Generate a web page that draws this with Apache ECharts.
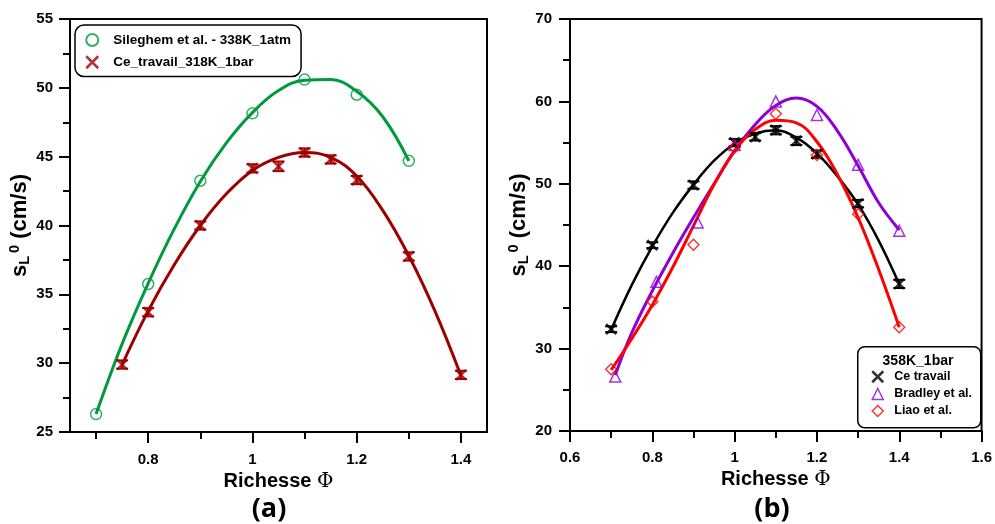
<!DOCTYPE html>
<html>
<head>
<meta charset="utf-8">
<script src="https://cdn.jsdelivr.net/npm/echarts@6/dist/echarts.min.js"></script>
<style>html,body{margin:0;padding:0;background:#fff}#c{width:995px;height:524px}</style>
</head>
<body>
<div id="c"></div>
<script>
// ---------- Panel (a) data ----------
const aGreenX = [0.7, 0.8, 0.9, 1.0, 1.1, 1.2, 1.3];
const aGreenY = [26.3, 35.75, 43.25, 48.15, 50.6, 49.5, 44.7];
const aRedX = [0.75, 0.8, 0.9, 1.0, 1.05, 1.1, 1.15, 1.2, 1.3, 1.4];
const aRedY = [29.9, 33.7, 40.0, 44.15, 44.3, 45.3, 44.8, 43.3, 37.75, 29.15];
const aRedErr = [0.3, 0.3, 0.3, 0.3, 0.35, 0.3, 0.3, 0.3, 0.3, 0.3];
const aFitGreenX = [0.7, 0.75, 0.8, 0.85, 0.9, 0.95, 1.0, 1.05, 1.1, 1.15, 1.2, 1.25, 1.3];
const aFitGreenY = [26.3, 31.4, 35.8, 39.75, 43.2, 46.0, 48.2, 49.8, 50.55, 50.6, 49.75, 47.9, 44.7];
const aFitRedX = [0.75, 0.8, 0.85, 0.9, 0.95, 1.0, 1.05, 1.1, 1.15, 1.2, 1.25, 1.3, 1.35, 1.4];
const aFitRedY = [29.9, 33.8, 37.15, 40.0, 42.3, 44.0, 44.95, 45.3, 44.95, 43.6, 41.1, 37.8, 33.8, 29.1];
const aXLabels = [0.8, 1.0, 1.2, 1.4];
const aXMinor = [0.7, 0.9, 1.1, 1.3];

// ---------- Panel (b) data ----------
const bBlackX = [0.7, 0.8, 0.9, 1.0, 1.05, 1.1, 1.15, 1.2, 1.3, 1.4];
const bBlackY = [32.35, 42.55, 49.85, 55.0, 55.7, 56.5, 55.2, 53.6, 47.6, 37.85];
const bBlackErr = [0.35, 0.35, 0.45, 0.45, 0.45, 0.5, 0.5, 0.45, 0.45, 0.5];
const bPurpleX = [0.71, 0.81, 0.91, 1.0, 1.1, 1.2, 1.3, 1.4];
const bPurpleY = [26.6, 38.1, 45.3, 54.7, 60.0, 58.35, 52.3, 44.3];
const bRedX = [0.7, 0.8, 0.9, 1.0, 1.1, 1.2, 1.3, 1.4];
const bRedY = [27.5, 35.7, 42.6, 54.4, 58.5, 53.5, 46.3, 32.6];
const bFitBlackX = [0.7, 0.75, 0.8, 0.85, 0.9, 0.95, 1.0, 1.05, 1.1, 1.15, 1.2, 1.25, 1.3, 1.35, 1.4];
const bFitBlackY = [32.3, 37.7, 42.4, 46.5, 49.9, 52.8, 54.9, 56.1, 56.5, 55.6, 53.7, 50.9, 47.5, 43.1, 37.8];
const bFitPurpleX = [0.71, 0.75, 0.8, 0.85, 0.9, 0.95, 1.0, 1.05, 1.1, 1.15, 1.2, 1.25, 1.3, 1.35, 1.4];
const bFitPurpleY = [26.8, 31.9, 37.0, 41.6, 45.9, 50.0, 54.0, 57.2, 59.5, 60.4, 59.4, 56.4, 52.2, 47.7, 44.4];
const bFitRedX = [0.7, 0.75, 0.8, 0.85, 0.9, 0.95, 1.0, 1.05, 1.1, 1.15, 1.2, 1.25, 1.3, 1.35, 1.4];
const bFitRedY = [27.4, 31.2, 35.3, 39.9, 44.9, 49.9, 54.0, 56.6, 57.7, 57.4, 55.1, 51.1, 45.9, 39.6, 32.6];

// ---------- Text ----------
const nameGreenA = 'Sileghem et al. - 338K_1atm';
const nameRedA = 'Ce_travail_318K_1bar';
const nameBlackB = 'Ce travail';
const namePurpleB = 'Bradley et al.';
const nameRedB = 'Liao et al.';
const legendTitleB = '358K_1bar';

const C_GREEN = '#009a3e', C_DRED = '#9e0000', C_PURPLE = '#8c00d4', C_RED = '#ff0000', C_BLACK = '#000000';
const FONT = 'Liberation Sans, Arial, sans-serif';
const X_PATH = 'path://M0,0L10,10M10,0L0,10';

const zip = (xs, ys) => xs.map((x, i) => [x, ys[i]]);
const errData = (xs, ys, es) => xs.map((x, i) => [x, ys[i] - es[i], ys[i] + es[i]]);

function errRender(color) {
  return function (params, api) {
    const x = api.value(0), lo = api.value(1), hi = api.value(2);
    const p1 = api.coord([x, lo]), p2 = api.coord([x, hi]);
    const hw = 6;
    const st = { stroke: color, lineWidth: 2 };
    return { type: 'group', children: [
      { type: 'line', shape: { x1: p1[0], y1: p1[1], x2: p2[0], y2: p2[1] }, style: st },
      { type: 'line', shape: { x1: p1[0] - hw, y1: p1[1], x2: p1[0] + hw, y2: p1[1] }, style: st },
      { type: 'line', shape: { x1: p2[0] - hw, y1: p2[1], x2: p2[0] + hw, y2: p2[1] }, style: st }
    ] };
  };
}

const axisLine = { show: true, lineStyle: { color: '#000', width: 2 } };
const tickLabel = { color: '#000', fontSize: 15, fontWeight: 'bold', fontFamily: FONT };
const majorTick = { show: true, length: 11, lineStyle: { width: 2, color: '#000' } };
const minorTick = { show: true, splitNumber: 2, length: 7, lineStyle: { width: 2, color: '#000' } };
const yName = 's{sub|L}{sup|0} (cm/s)';
const yNameStyle = { color: '#000', fontSize: 22, fontWeight: 'bold', fontFamily: FONT,
  rich: { sub: { fontSize: 14.5, fontWeight: 'bold', fontFamily: FONT, padding: [10, 3, 0, 0] },
          sup: { fontSize: 14.5, fontWeight: 'bold', fontFamily: FONT, padding: [0, 0, 10, 0] } } };
const xName = 'Richesse {p|Φ}';
const xNameStyle = { color: '#000', fontSize: 20, fontWeight: 'bold', fontFamily: FONT,
  rich: { p: { fontSize: 20, fontFamily: 'DejaVu Serif, serif', fontWeight: 'normal', color: '#000' } } };

const option = {
  backgroundColor: '#fff',
  animation: false,
  grid: [
    { left: 70, top: 19, width: 417, height: 413, show: true, borderColor: '#000', borderWidth: 2, backgroundColor: 'transparent' },
    { left: 570, top: 19, width: 413, height: 412, show: true, borderColor: '#000', borderWidth: 2, backgroundColor: 'transparent' }
  ],
  xAxis: [
    { gridIndex: 0, type: 'value', min: 0.65, max: 1.45, position: 'bottom',
      axisLine: axisLine, splitLine: { show: false },
      axisTick: Object.assign({ customValues: aXLabels }, majorTick),
      axisLabel: Object.assign({ margin: 20, customValues: aXLabels }, tickLabel),
      name: xName, nameLocation: 'middle', nameGap: 38, nameTextStyle: xNameStyle },
    { gridIndex: 0, type: 'value', min: 0.65, max: 1.45, position: 'bottom',
      axisLine: { show: false }, splitLine: { show: false },
      axisTick: { show: true, length: 7, lineStyle: { width: 2, color: '#000' }, customValues: aXMinor },
      axisLabel: { show: false } },
    { gridIndex: 1, type: 'value', min: 0.6, max: 1.6, interval: 0.2, position: 'bottom',
      axisLine: axisLine, splitLine: { show: false },
      axisTick: majorTick, minorTick: minorTick,
      axisLabel: Object.assign({ margin: 19 }, tickLabel),
      name: xName, nameLocation: 'middle', nameGap: 38, nameTextStyle: xNameStyle }
  ],
  yAxis: [
    { gridIndex: 0, type: 'value', min: 25, max: 55, interval: 5,
      axisLine: axisLine, splitLine: { show: false },
      axisTick: majorTick, minorTick: minorTick,
      axisLabel: Object.assign({ margin: 17 }, tickLabel),
      name: yName, nameLocation: 'middle', nameGap: 25, nameTextStyle: yNameStyle },
    { gridIndex: 1, type: 'value', min: 20, max: 70, interval: 10,
      axisLine: axisLine, splitLine: { show: false },
      axisTick: majorTick, minorTick: minorTick,
      axisLabel: Object.assign({ margin: 18 }, tickLabel),
      name: yName, nameLocation: 'middle', nameGap: 26, nameTextStyle: yNameStyle }
  ],
  legend: [
    { left: 75, top: 25, orient: 'vertical', padding: [8, 10, 7, 10],
      borderColor: '#000', borderWidth: 1.5, borderRadius: 9, backgroundColor: '#fff',
      itemGap: 8, itemWidth: 12, itemHeight: 12,
      textStyle: { fontWeight: 'bold', fontSize: 13.5, color: '#000', fontFamily: FONT, padding: [0, 0, 0, 10] },
      data: [
        { name: nameGreenA, icon: 'circle', itemStyle: { color: 'transparent', borderColor: C_GREEN, borderWidth: 2 } },
        { name: nameRedA, icon: X_PATH, itemStyle: { color: 'transparent', borderColor: C_DRED, borderWidth: 2.5 } }
      ] },
    { left: 871, top: 370, orient: 'vertical', padding: 0,
      itemGap: 4, itemWidth: 11, itemHeight: 11,
      textStyle: { fontWeight: 'bold', fontSize: 12.5, color: '#000', fontFamily: FONT, padding: [0, 0, 0, 6] },
      data: [
        { name: nameBlackB, icon: X_PATH, itemStyle: { color: 'transparent', borderColor: C_BLACK, borderWidth: 2.5 } },
        { name: namePurpleB, icon: 'triangle', itemStyle: { color: 'transparent', borderColor: C_PURPLE, borderWidth: 1.5 } },
        { name: nameRedB, icon: 'diamond', itemStyle: { color: 'transparent', borderColor: C_RED, borderWidth: 1.5 } }
      ] }
  ],
  graphic: [
    { type: 'rect', left: 857, top: 346, shape: { width: 123, height: 81, r: 7 }, z: 1,
      style: { fill: '#fff', stroke: '#000', lineWidth: 1.5 } },
    { type: 'text', x: 918, y: 361, z: 3,
      style: { text: legendTitleB, fill: '#000', font: 'bold 14px ' + FONT, textAlign: 'center', textVerticalAlign: 'middle' } },
    { type: 'text', x: 269, y: 509, z: 3,
      style: { text: '(a)', fill: '#000', font: 'bold 27px "Open Sans", sans-serif', textAlign: 'center', textVerticalAlign: 'middle' } },
    { type: 'text', x: 772, y: 509, z: 3,
      style: { text: '(b)', fill: '#000', font: 'bold 27px "Open Sans", sans-serif', textAlign: 'center', textVerticalAlign: 'middle' } }
  ],
  series: [
    // panel a
    { name: 'fitA1', type: 'line', xAxisIndex: 0, yAxisIndex: 0, data: zip(aFitGreenX, aFitGreenY), smooth: 0.4,
      showSymbol: false, lineStyle: { color: C_GREEN, width: 3 }, z: 2 },
    { name: 'fitA2', type: 'line', xAxisIndex: 0, yAxisIndex: 0, data: zip(aFitRedX, aFitRedY), smooth: 0.4,
      showSymbol: false, lineStyle: { color: C_DRED, width: 3 }, z: 2 },
    { name: nameGreenA, type: 'scatter', xAxisIndex: 0, yAxisIndex: 0, data: zip(aGreenX, aGreenY),
      symbol: 'circle', symbolSize: 11, itemStyle: { color: 'transparent', borderColor: C_GREEN, borderWidth: 1.5 }, z: 4 },
    { name: 'errA', type: 'custom', xAxisIndex: 0, yAxisIndex: 0, data: errData(aRedX, aRedY, aRedErr),
      renderItem: errRender(C_DRED), z: 3 },
    { name: nameRedA, type: 'scatter', xAxisIndex: 0, yAxisIndex: 0, data: zip(aRedX, aRedY),
      symbol: X_PATH, symbolSize: 10, itemStyle: { color: 'transparent', borderColor: C_DRED, borderWidth: 2.5 }, z: 4 },
    // panel b
    { name: 'fitB1', type: 'line', xAxisIndex: 2, yAxisIndex: 1, data: zip(bFitBlackX, bFitBlackY), smooth: 0.4,
      showSymbol: false, lineStyle: { color: C_BLACK, width: 2.5 }, z: 2 },
    { name: 'fitB2', type: 'line', xAxisIndex: 2, yAxisIndex: 1, data: zip(bFitPurpleX, bFitPurpleY), smooth: 0.4,
      showSymbol: false, lineStyle: { color: C_PURPLE, width: 3 }, z: 2 },
    { name: 'fitB3', type: 'line', xAxisIndex: 2, yAxisIndex: 1, data: zip(bFitRedX, bFitRedY), smooth: 0.4,
      showSymbol: false, lineStyle: { color: C_RED, width: 3 }, z: 2 },
    { name: 'errB', type: 'custom', xAxisIndex: 2, yAxisIndex: 1, data: errData(bBlackX, bBlackY, bBlackErr),
      renderItem: errRender(C_BLACK), z: 3 },
    { name: nameBlackB, type: 'scatter', xAxisIndex: 2, yAxisIndex: 1, data: zip(bBlackX, bBlackY),
      symbol: X_PATH, symbolSize: 10, itemStyle: { color: 'transparent', borderColor: C_BLACK, borderWidth: 2.5 }, z: 4 },
    { name: namePurpleB, type: 'scatter', xAxisIndex: 2, yAxisIndex: 1, data: zip(bPurpleX, bPurpleY),
      symbol: 'triangle', symbolSize: 11, itemStyle: { color: 'transparent', borderColor: C_PURPLE, borderWidth: 1.5 }, z: 4 },
    { name: nameRedB, type: 'scatter', xAxisIndex: 2, yAxisIndex: 1, data: zip(bRedX, bRedY),
      symbol: 'diamond', symbolSize: 11, itemStyle: { color: 'transparent', borderColor: C_RED, borderWidth: 1.5 }, z: 4 }
  ]
};
const chart = echarts.init(document.getElementById('c'), null, { renderer: 'canvas' });
chart.setOption(option);
</script>
</body>
</html>
